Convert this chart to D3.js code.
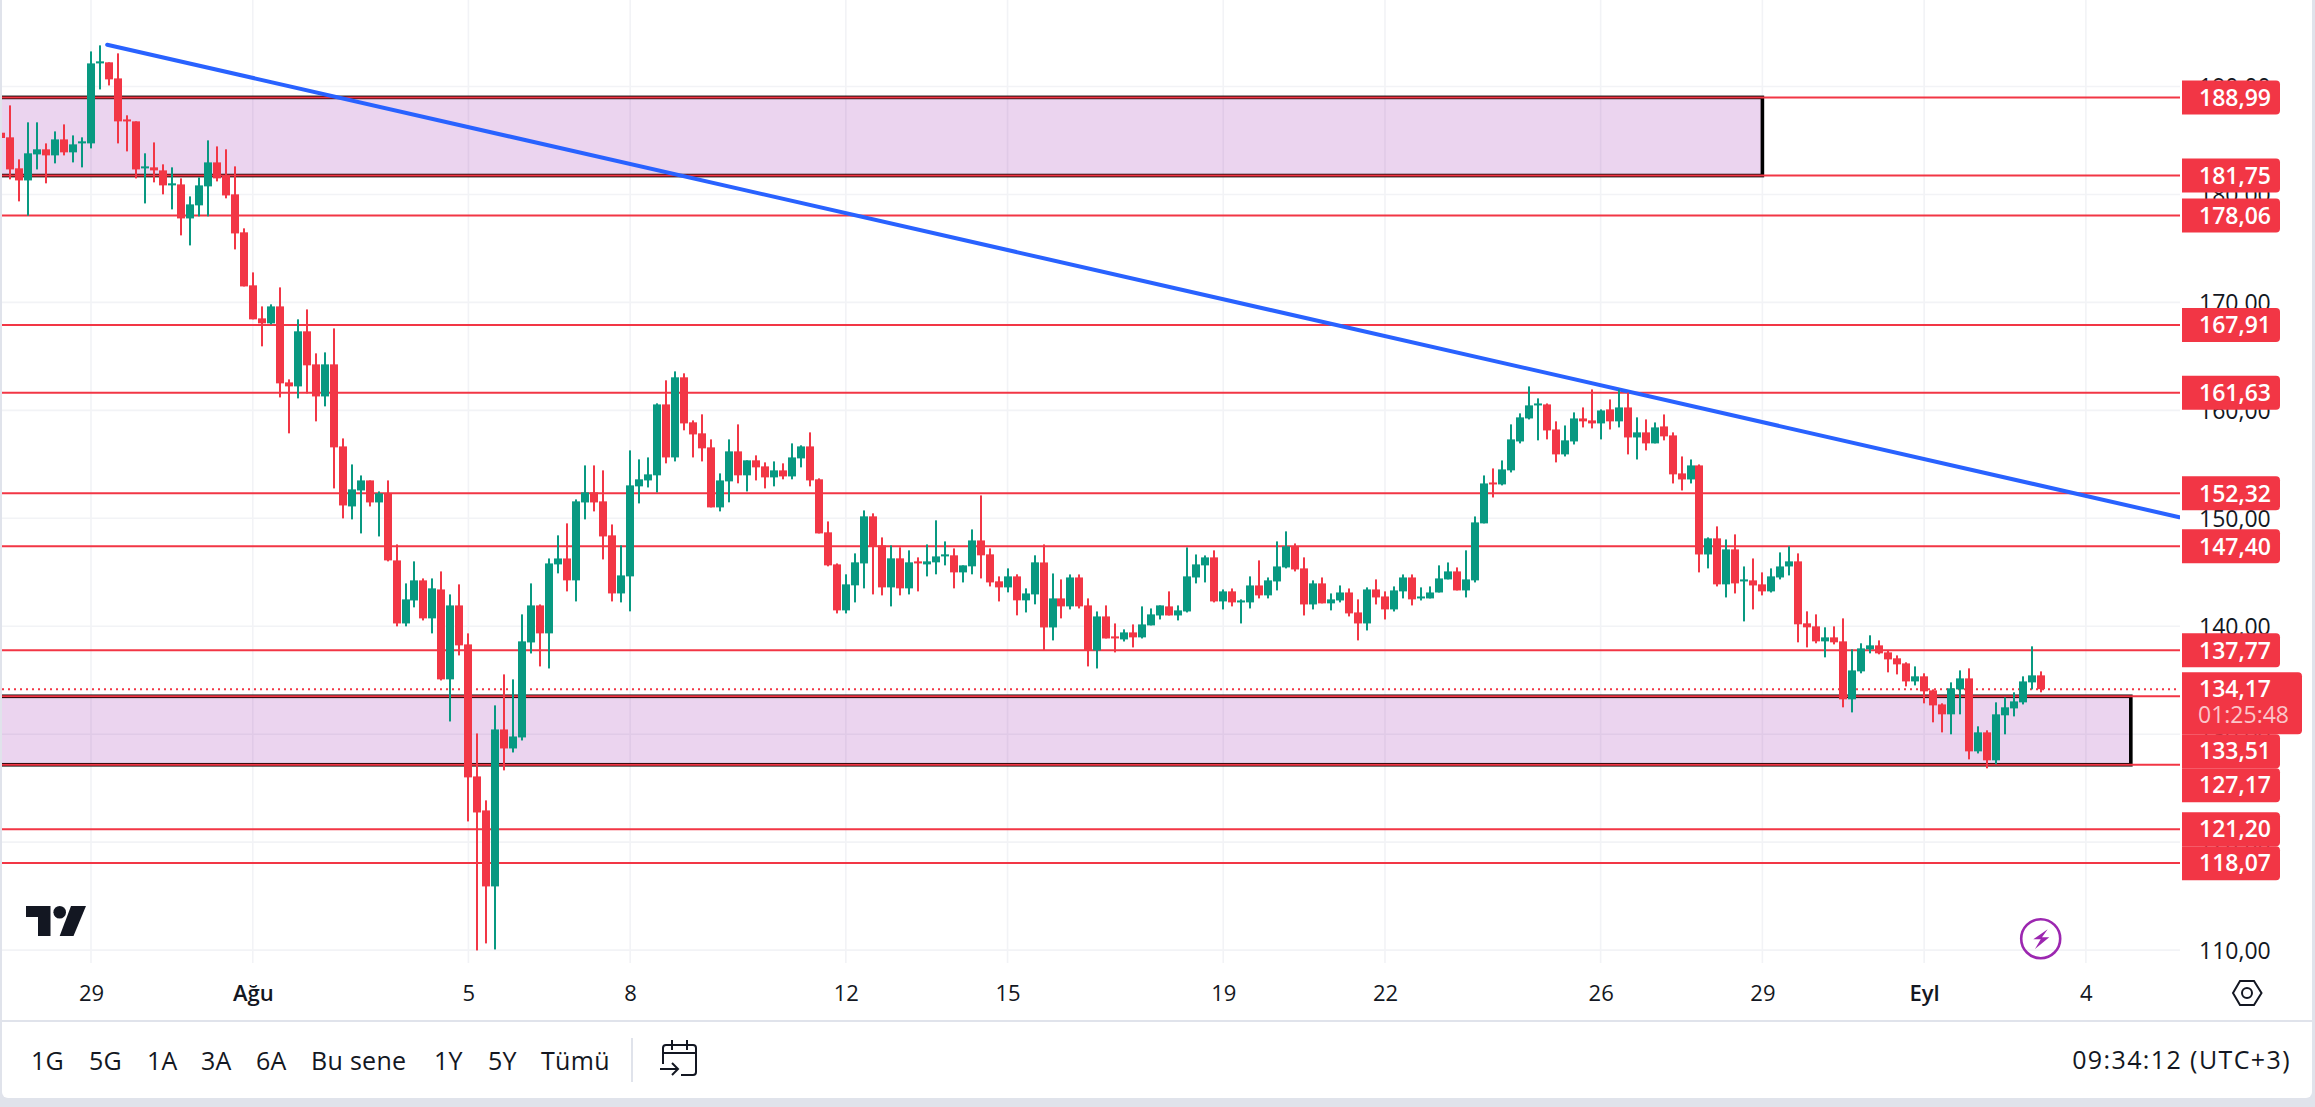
<!DOCTYPE html>
<html><head><meta charset="utf-8">
<style>html,body{margin:0;padding:0;background:#e0e3eb;overflow:hidden}svg{display:block}text{font-family:"Open Sans",sans-serif}</style>
<script src="https://cdn.jsdelivr.net/npm/d3@7/dist/d3.min.js"></script>
</head><body>
<svg id="c" width="2315" height="1107"></svg>
<script>
const opens=[185.72,185.29,182.42,181.30,183.71,184.18,183.62,185.10,183.90,184.73,
184.73,192.14,192.24,190.75,186.95,186.77,182.42,182.51,182.23,180.84,
180.93,177.78,178.99,180.75,182.97,181.77,180.01,176.49,171.58,168.52,
168.06,169.63,162.59,162.22,167.32,164.26,161.29,164.26,156.66,151.10,
152.58,153.51,151.47,152.31,146.10,140.26,142.39,144.25,140.73,143.41,
135.08,141.93,138.32,126.09,122.94,115.90,130.44,128.68,129.70,138.50,
141.93,139.34,145.73,146.28,144.25,151.47,152.40,151.57,148.42,143.04,
144.62,152.96,153.51,153.98,160.55,155.64,163.06,158.89,157.87,156.57,
151.01,153.42,156.20,153.98,155.37,154.81,153.79,154.44,153.88,155.55,
156.66,153.61,148.70,145.73,141.47,143.79,145.82,150.18,147.49,143.60,
146.29,143.51,146.01,145.73,145.92,146.47,146.57,144.99,145.55,147.95,
146.66,144.16,143.60,144.62,142.40,142.95,145.91,139.89,142.58,141.84,
144.52,141.93,137.76,140.91,139.06,138.78,139.43,138.97,140.08,141.00,
141.84,141.00,141.37,144.52,145.64,146.38,142.30,143.23,142.21,142.21,
143.78,142.86,144.15,145.45,147.40,145.36,142.02,143.97,142.12,142.39,
143.13,141.28,140.26,143.41,142.76,141.56,143.23,144.52,142.58,142.58,
143.13,144.34,145.08,143.32,144.25,149.53,153.32,153.14,154.44,157.12,
159.25,160.46,160.55,158.23,155.92,157.12,159.25,159.07,158.79,160.09,
158.98,160.27,157.49,157.96,156.94,158.51,157.68,154.16,153.60,154.90,
146.65,148.14,143.88,147.12,144.15,144.25,143.88,143.23,144.52,145.54,
146.01,140.27,139.99,138.60,138.97,138.60,133.23,135.82,137.86,138.23,
137.58,137.03,136.56,134.89,135.36,134.06,132.76,131.84,134.15,135.17,
128.41,130.17,127.58,131.75,132.39,132.95,134.80,135.45];
const highs=[185.94,188.25,183.25,186.68,186.68,184.73,185.84,186.49,185.47,185.29,
193.25,193.81,192.24,193.07,187.33,186.77,183.81,184.82,182.79,182.51,
181.49,179.82,181.58,185.01,184.45,184.18,182.60,176.86,172.78,169.63,
169.82,171.39,162.87,168.43,169.35,165.28,165.37,167.59,157.40,154.99,
153.97,153.51,152.49,153.51,147.58,143.97,146.01,144.43,144.43,145.08,
142.95,143.88,139.34,130.07,123.87,132.67,135.54,135.08,141.10,143.97,
142.02,146.28,148.42,149.53,151.75,154.90,154.90,154.44,149.43,147.49,
156.29,155.46,155.64,160.65,162.78,163.61,163.43,159.07,159.63,157.31,
154.16,157.31,158.70,155.37,155.83,155.18,155.27,155.09,156.94,156.76,
157.96,153.70,149.71,145.82,144.81,146.75,150.73,150.46,148.23,147.49,
147.31,147.03,146.38,147.58,149.81,147.86,147.21,145.64,148.97,152.12,
147.21,144.62,145.36,144.81,143.51,146.57,147.58,144.89,144.34,144.80,
144.80,142.58,141.37,141.93,140.26,139.71,140.17,141.84,141.65,141.93,
143.23,141.93,147.30,146.65,146.56,147.03,143.41,143.50,142.49,144.62,
146.10,144.52,147.86,148.79,147.67,146.38,144.25,144.52,143.04,143.78,
143.50,142.49,143.60,144.34,143.23,143.69,144.80,144.80,143.60,143.69,
145.64,145.91,145.45,147.03,150.17,153.97,154.62,155.36,158.70,159.72,
162.22,161.11,160.64,158.98,158.60,159.81,160.27,161.94,160.09,161.01,
161.94,161.66,159.35,159.16,158.88,159.62,157.96,155.73,155.45,154.99,
148.23,149.25,148.04,148.51,145.54,146.28,144.99,145.36,146.84,147.40,
146.75,141.38,141.10,139.90,139.99,140.73,137.86,138.42,139.16,138.69,
137.77,137.30,136.66,136.28,135.64,134.15,132.86,134.80,135.91,136.10,
130.73,130.36,132.95,133.41,133.88,135.36,138.14,135.82];
const lows=[185.01,181.40,179.36,178.03,182.32,181.03,182.88,183.62,182.97,182.51,
184.27,189.73,190.10,184.73,183.99,181.49,179.17,181.12,180.01,178.62,
176.21,175.28,177.97,177.97,181.21,179.64,174.91,171.48,168.43,165.93,
167.96,161.20,157.87,161.11,161.57,158.98,160.37,152.77,149.99,149.90,
148.60,151.10,148.32,146.01,139.99,139.99,141.75,140.54,139.34,134.98,
131.18,137.30,121.92,109.97,110.62,110.06,126.65,128.31,129.42,137.48,
136.28,136.09,144.90,143.23,142.30,149.90,150.64,146.19,142.30,142.21,
141.38,151.38,152.86,152.40,155.09,155.27,158.15,155.64,155.27,151.01,
150.64,151.48,153.24,152.49,153.51,152.77,152.96,153.61,153.61,154.72,
152.96,148.60,145.55,141.19,141.19,142.21,143.51,142.95,142.86,141.84,
142.86,142.95,143.23,144.62,144.81,145.64,143.51,144.06,144.81,144.43,
143.69,142.30,143.14,141.01,141.28,142.03,137.76,138.69,140.73,141.56,
141.65,136.28,136.09,138.87,137.58,138.59,138.04,138.87,140.08,140.63,
141.00,140.54,141.28,143.97,144.06,142.21,141.56,141.84,140.26,141.65,
142.58,142.58,143.32,145.36,145.08,141.00,141.56,142.12,141.47,142.21,
140.91,138.69,139.61,142.02,140.63,141.37,142.58,141.93,142.39,142.58,
143.13,144.34,143.32,142.67,144.06,149.53,151.93,153.05,154.25,156.94,
159.16,157.22,157.31,155.18,155.73,156.84,158.42,158.33,157.31,158.23,
158.42,155.92,155.45,156.29,156.94,157.22,153.23,152.58,153.23,144.99,
145.36,143.69,142.67,143.04,140.45,141.56,142.86,143.13,144.34,144.71,
138.51,138.04,138.42,137.12,138.32,132.49,132.02,135.64,137.49,137.40,
135.73,135.54,134.43,134.52,132.86,131.10,130.17,129.99,131.84,127.67,
128.22,126.84,127.21,129.99,131.65,132.76,134.15,133.88];
const closes=[185.23,182.32,181.30,183.81,184.18,183.62,185.10,183.90,184.64,184.92,
192.14,192.33,190.66,186.77,186.77,182.32,182.60,182.23,180.84,181.03,
177.78,179.08,180.84,182.97,181.49,179.91,176.39,171.48,168.43,168.06,
169.63,162.50,162.22,167.32,164.17,161.29,164.26,156.57,151.19,152.68,
153.51,151.47,152.31,146.10,140.26,142.49,144.25,140.73,143.51,135.08,
141.93,138.23,126.00,122.75,115.90,130.44,128.68,129.79,138.60,141.93,
139.34,145.82,146.28,144.25,151.57,152.40,151.47,148.32,143.04,144.71,
153.05,153.61,154.07,160.55,155.64,163.06,158.79,157.77,156.48,151.01,
153.51,156.20,153.98,155.37,154.72,153.79,154.44,153.88,155.64,156.66,
153.51,148.60,145.64,141.47,143.88,145.92,150.18,147.40,143.60,146.29,
143.51,145.92,145.82,146.01,146.47,146.66,144.99,145.64,147.95,146.57,
144.06,143.60,144.62,142.40,143.04,145.92,139.89,142.58,141.84,144.52,
141.84,137.76,140.91,138.87,138.87,139.43,138.97,140.17,141.10,141.93,
141.00,141.47,144.62,145.73,146.38,142.30,143.23,142.21,142.39,143.78,
142.86,144.25,145.54,147.40,145.26,142.02,143.97,142.12,142.49,143.13,
141.19,140.26,143.41,142.67,141.56,143.32,144.52,142.49,142.76,143.13,
144.43,145.08,143.32,144.34,149.62,153.23,153.14,154.53,157.31,159.35,
160.46,160.64,158.14,155.92,157.22,159.25,158.98,158.79,159.99,158.98,
160.27,157.49,157.96,156.94,158.42,157.59,154.07,153.60,154.90,146.65,
148.14,143.88,147.12,143.97,144.34,143.78,143.23,144.62,145.54,146.01,
140.18,139.90,138.60,138.97,138.51,133.23,135.91,137.95,138.23,137.49,
136.93,136.47,134.89,135.36,133.97,132.67,131.84,134.25,135.17,128.41,
130.17,127.58,131.84,132.49,133.04,134.89,135.45,134.17];

const levels=[188.99,181.75,178.06,167.91,161.63,152.32,147.40,137.77,133.51,127.17,121.20,118.07];
const lastPrice=134.17, countdown="01:25:48";
const zoneLow=[181.75,127.17], zoneHigh=[188.99,133.51], zoneEndIndex=[196,237];
const trendIndex=[11.8,242.4], trendPrice=[193.87,150.10];
const priceTicks=[110,120,130,140,150,160,170,180,190];
const dateIndex=[10,28,52,70,94,112,136,154,178,196,214,232];
const dateLabels=["29","Ağu","5","8","12","15","19","22","26","29","Eyl","4"];
const rangeLabels=["1G","5G","1A","3A","6A","Bu sene","1Y","5Y","Tümü"];
const clockLabel="09:34:12 (UTC+3)";

const red="#f23645", green="#089981", ink="#131722";
const fmt=v=>v.toFixed(2).replace(".",",");
const svg=d3.select("#c");
const plotL=2, plotR=2180, plotB=963;
const x=d3.scaleLinear().domain([0,227]).range([1.14,1.14+8.986*227]);
const y=d3.scaleLinear().domain([110,190]).range([950.1,86.5]);

// panel
svg.append("path").attr("fill","#fff")
  .attr("d","M2 0H2312V1092a6 6 0 0 1 -6 6H8a6 6 0 0 1 -6 -6Z");
svg.append("rect").attr("x",2).attr("y",1020).attr("width",2310).attr("height",2).attr("fill","#e0e3eb");

svg.append("clipPath").attr("id","plot").append("rect").attr("x",plotL).attr("y",0).attr("width",plotR-plotL).attr("height",plotB);
const plot=svg.append("g").attr("clip-path","url(#plot)");

// grid
plot.append("g").selectAll("line").data(priceTicks).join("line")
  .attr("x1",plotL).attr("x2",plotR).attr("y1",d=>y(d)).attr("y2",d=>y(d))
  .attr("stroke","#f2f3f6").attr("stroke-width",1.6);
plot.append("g").selectAll("line").data(dateIndex).join("line")
  .attr("x1",d=>x(d)).attr("x2",d=>x(d)).attr("y1",0).attr("y2",plotB)
  .attr("stroke","#f2f3f6").attr("stroke-width",1.6);

// zones
zoneLow.forEach((lo,k)=>{
  const r=x(zoneEndIndex[k]);
  plot.append("rect").attr("x",x(-5)).attr("width",r-x(-5))
    .attr("y",y(zoneHigh[k])).attr("height",y(lo)-y(zoneHigh[k]))
    .attr("fill","#9c27b0").attr("fill-opacity",.2)
    .attr("stroke","#000").attr("stroke-width",3.6);
});

// horizontal levels
plot.append("g").selectAll("line").data(levels).join("line")
  .attr("x1",plotL).attr("x2",plotR).attr("y1",d=>y(d)).attr("y2",d=>y(d))
  .attr("stroke",red).attr("stroke-width",2);
// last price line
plot.append("line").attr("x1",plotL).attr("x2",plotR).attr("y1",y(lastPrice)).attr("y2",y(lastPrice))
  .attr("stroke",red).attr("stroke-width",2).attr("stroke-dasharray","2,4");
// trend line
plot.append("line").attr("x1",x(trendIndex[0])).attr("y1",y(trendPrice[0]))
  .attr("x2",x(trendIndex[1])).attr("y2",y(trendPrice[1]))
  .attr("stroke","#2962ff").attr("stroke-width",4).attr("stroke-linecap","round");

// candles
const candles=d3.range(opens.length);
const col=i=>closes[i]>=opens[i]?green:red;
const g=plot.append("g");
g.selectAll(".wick").data(candles).join("rect").attr("class","wick")
  .attr("x",i=>Math.round(x(i))-1).attr("width",2)
  .attr("y",i=>y(highs[i])).attr("height",i=>y(lows[i])-y(highs[i])).attr("fill",col);
g.selectAll(".body").data(candles).join("rect").attr("class","body")
  .attr("x",i=>Math.round(x(i))-4).attr("width",8)
  .attr("y",i=>y(Math.max(opens[i],closes[i])))
  .attr("height",i=>Math.max(2,Math.abs(y(opens[i])-y(closes[i])))).attr("fill",col);

// price axis
const yAxis=svg.append("g").attr("transform","translate(2199,0)")
  .call(d3.axisRight(y).tickValues(priceTicks).tickFormat(fmt).tickSize(0).tickPadding(0));
yAxis.select(".domain").remove();
yAxis.selectAll("text").attr("font-size",23).attr("font-family","'Open Sans',sans-serif").attr("fill",ink).attr("dy","0.36em");

// time axis
const xAxis=svg.append("g").attr("transform","translate(0,993)")
  .call(d3.axisBottom(x).tickValues(dateIndex).tickFormat((d,i)=>dateLabels[i]).tickSize(0).tickPadding(0));
xAxis.select(".domain").remove();
xAxis.selectAll("text").attr("font-size",22).attr("font-family","'Open Sans',sans-serif").attr("fill",ink)
  .attr("dy","0.36em").attr("y",0)
  .attr("font-weight",t=>(t===28||t===214)?600:400);

// price labels with stacking
const boxH=34, boxL=2182, boxW=98;
const lastY=y(lastPrice), clockTop=lastY-17, clockBottom=clockTop+62;
let prevBottom=-1e9;
const stacked=levels.map(v=>{
  let top=y(v)-boxH/2;
  if(top<prevBottom) top=prevBottom;
  if(top<clockBottom && top+boxH>clockTop) top=clockBottom;
  prevBottom=top+boxH;
  return {v,top};
});
const box=(X,T,W,H)=>`M${X} ${T}H${X+W-4}a4 4 0 0 1 4 4V${T+H-4}a4 4 0 0 1 -4 4H${X}Z`;
const labels=svg.append("g");
labels.selectAll("path").data(stacked).join("path").attr("d",d=>box(boxL,d.top,boxW,boxH)).attr("fill",red);
labels.append("path").attr("d",box(boxL,clockTop,120,62)).attr("fill",red);
labels.selectAll("text.lv").data(stacked).join("text").attr("class","lv")
  .attr("x",2199).attr("y",d=>d.top+boxH/2).attr("dy","0.36em")
  .attr("font-size",23).attr("font-weight",600).attr("fill","#fff").text(d=>fmt(d.v));
labels.append("text").attr("x",2199).attr("y",lastY).attr("dy","0.36em")
  .attr("font-size",23).attr("font-weight",600).attr("fill","#fff").text(fmt(lastPrice));
labels.append("text").attr("x",2198).attr("y",lastY+26).attr("dy","0.36em")
  .attr("font-size",23).attr("fill","#fff").attr("fill-opacity",.72).text(countdown);

// logo
svg.append("path").attr("fill",ink).attr("d","M26 906H50.5V936H38V917H26Z");
svg.append("circle").attr("cx",59.7).attr("cy",912.3).attr("r",6.3).attr("fill",ink);
svg.append("path").attr("fill",ink).attr("d","M71 906H86L73.5 936H59.7Z");

// bolt
svg.append("circle").attr("cx",2040.7).attr("cy",938.7).attr("r",19.5).attr("fill","none").attr("stroke","#9c27b0").attr("stroke-width",2.6);
svg.append("path").attr("fill","#9c27b0").attr("d","M2047.7 929.3L2033.3 939.3H2040.7L2035 949L2049.3 937.3H2042Z");

// settings hex
svg.append("path").attr("fill","none").attr("stroke",ink).attr("stroke-width",2).attr("d","M2233 993L2240 981H2254L2261.5 993L2254 1005H2240Z");
svg.append("circle").attr("cx",2247).attr("cy",993).attr("r",5).attr("fill","none").attr("stroke",ink).attr("stroke-width",2);

// toolbar
const rangeStart=[31,89,147,201,256,311,434,488,541];
svg.append("g").selectAll("text").data(rangeLabels).join("text")
  .attr("x",(d,i)=>rangeStart[i]).attr("y",1061).attr("dy","0.36em")
  .attr("font-size",25).attr("letter-spacing",0.3).attr("fill",ink).text(d=>d);
svg.append("rect").attr("x",631).attr("y",1038).attr("width",2).attr("height",44).attr("fill","#e0e3eb");
svg.append("path").attr("fill","none").attr("stroke",ink).attr("stroke-width",2)
  .attr("d","M663 1064V1048a3 3 0 0 1 3 -3H693a3 3 0 0 1 3 3V1072a3 3 0 0 1 -3 3H681M663 1053H696M672 1040V1050M687 1040V1050M660 1069H678M672 1063l6 6l-6 6");
svg.append("text").attr("x",2291).attr("y",1060).attr("dy","0.36em").attr("text-anchor","end")
  .attr("font-size",25).attr("letter-spacing",1.4).attr("fill",ink).text(clockLabel);
</script>
</body></html>
